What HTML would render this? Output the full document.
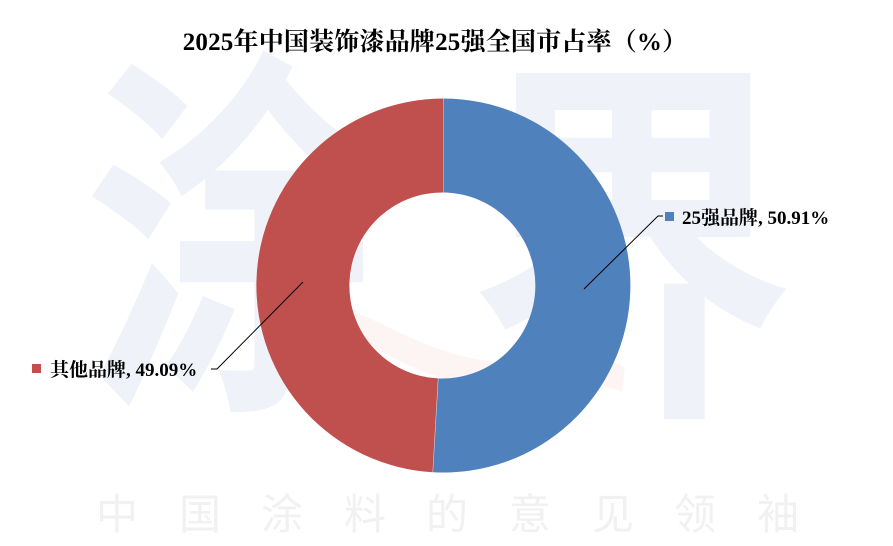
<!DOCTYPE html>
<html>
<head>
<meta charset="utf-8">
<style>
  html, body { margin:0; padding:0; background:#ffffff; }
  body { width:893px; height:546px; overflow:hidden; }
  svg { display:block; }
</style>
</head>
<body>
<svg width="893" height="546" viewBox="0 0 893 546" xmlns="http://www.w3.org/2000/svg">
  <rect x="0" y="0" width="893" height="546" fill="#ffffff"/>

  <!-- big watermark characters -->
  <g fill="#eff3f9" font-family="'Noto Sans CJK SC', 'WenQuanYi Zen Hei', sans-serif" font-weight="700" font-size="380" text-anchor="middle">
    <text transform="translate(233,378) scale(0.78,1)" x="0" y="0">涂</text>
    <text transform="translate(632,386) scale(0.86,1.01)" x="0" y="0">界</text>
  </g>

  <!-- faint pink swoosh -->
  <path d="M355,312 C400,330 450,365 520,362 C570,360 600,352 625,368 L622,392 C590,378 560,385 520,388 C450,392 395,360 352,335 Z" fill="#fdf3f1" opacity="0.8"/>

  <!-- bottom watermark -->
  <g fill="#f1f1f1" font-family="'Noto Sans CJK SC', 'WenQuanYi Zen Hei', sans-serif" font-size="42" text-anchor="middle">
    <text x="117" y="529">中</text>
    <text x="200" y="529">国</text>
    <text x="282" y="529">涂</text>
    <text x="365" y="529">料</text>
    <text x="447" y="529">的</text>
    <text x="530" y="529">意</text>
    <text x="613" y="529">见</text>
    <text x="695" y="529">领</text>
    <text x="778" y="529">袖</text>
  </g>

  <!-- donut -->
  <path d="M443.5,98.5 A187,187 0 1 1 432.8,472.2 L438.2,378.4 A93,93 0 1 0 443.5,192.5 Z" fill="#4f81bd"/>
  <path d="M432.8,472.2 A187,187 0 0 1 443.5,98.5 L443.5,192.5 A93,93 0 0 0 438.2,378.4 Z" fill="#c0504d"/>
  <line x1="443.5" y1="98.5" x2="443.5" y2="192.5" stroke="#ffffff" stroke-width="0.6" opacity="0.6"/>
  <line x1="432.8" y1="472.2" x2="438.2" y2="378.4" stroke="#ffffff" stroke-width="0.6" opacity="0.6"/>

  <!-- leader lines -->
  <polyline points="303,282 217,369 211,369" fill="none" stroke="#000000" stroke-width="1"/>
  <polyline points="584,289 658,216 663,216" fill="none" stroke="#000000" stroke-width="1"/>

  <!-- title -->
  <text x="435" y="50" text-anchor="middle" letter-spacing="0.2" font-family="'Liberation Serif', 'Noto Serif CJK SC', serif" font-weight="700" font-size="25" fill="#000000">2025年中国装饰漆品牌25强全国市占率（%）</text>

  <!-- labels -->
  <rect x="32" y="364" width="9" height="9" fill="#c0504d"/>
  <text x="50" y="376" font-family="'Liberation Serif', 'Noto Serif CJK SC', serif" font-weight="700" font-size="19" fill="#000000">其他品牌, 49.09%</text>

  <rect x="665" y="212" width="9" height="9" fill="#4f81bd"/>
  <text x="682" y="224" font-family="'Liberation Serif', 'Noto Serif CJK SC', serif" font-weight="700" font-size="19" fill="#000000">25强品牌, 50.91%</text>
</svg>
</body>
</html>
